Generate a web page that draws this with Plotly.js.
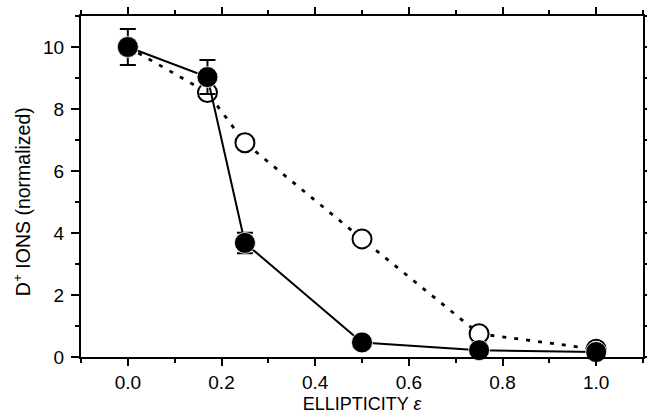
<!DOCTYPE html>
<html>
<head>
<meta charset="utf-8">
<script src="https://cdn.plot.ly/plotly-3.0.1.min.js"></script>
<style>html,body{margin:0;padding:0;background:#fff;}#chart{width:647px;height:417px;}</style>
</head>
<body>
<div id="chart"></div>
<script>
const ellipticity = [0.0, 0.17, 0.25, 0.5, 0.75, 1.0];
const openIons    = [10.0, 8.53, 6.91, 3.81, 0.75, 0.25];
const filledIons  = [10.0, 9.03, 3.68, 0.47, 0.22, 0.16];
const filledErr   = [0.58, 0.55, 0.33, 0, 0, 0];
const xTickVals   = [0.0, 0.2, 0.4, 0.6, 0.8, 1.0];
const xTickText   = ['0.0', '0.2', '0.4', '0.6', '0.8', '1.0'];
const yTickVals   = [0, 2, 4, 6, 8, 10];

const fam = 'Liberation Sans, Arial, sans-serif';
const tickFont = {family: fam, size: 19, color: '#000'};
const xTitleFont = {family: fam, size: 18, color: '#000'};
const yTitleFont = {family: fam, size: 19.5, color: '#000'};

const traces = [
  {
    x: ellipticity, y: openIons, type: 'scatter', mode: 'lines+markers',
    line: {color: '#000', width: 2.8, dash: '4px,8px'},
    marker: {symbol: 'circle', size: 19, color: '#fff', line: {color: '#000', width: 2}},
    cliponaxis: false, showlegend: false, hoverinfo: 'skip'
  },
  {
    x: ellipticity, y: filledIons, type: 'scatter', mode: 'lines+markers',
    line: {color: '#000', width: 2},
    marker: {symbol: 'circle', size: 21, color: '#000', line: {color: '#fff', width: 0.8}},
    error_y: {type: 'data', array: filledErr, visible: true, color: '#000', thickness: 2, width: 8},
    cliponaxis: false, showlegend: false, hoverinfo: 'skip'
  }
];

const layout = {
  width: 647, height: 417,
  margin: {l: 81, r: 4, t: 16, b: 60},
  paper_bgcolor: '#fff', plot_bgcolor: '#fff',
  font: tickFont,
  showlegend: false,
  xaxis: {
    range: [-0.1, 1.1], tickvals: xTickVals, ticktext: xTickText,
    ticks: 'outside', ticklen: 7, tickwidth: 2, tickcolor: '#000',
    minor: {dtick: 0.1, tick0: 0, ticks: 'outside', ticklen: 4, tickwidth: 2, tickcolor: '#000', showgrid: false},
    showline: true, linewidth: 2, linecolor: '#000', mirror: 'ticks',
    showgrid: false, zeroline: false, tickfont: tickFont, ticklabelstandoff: 0,
    title: {text: 'ELLIPTICITY <i>ε</i>', font: xTitleFont, standoff: 6}
  },
  yaxis: {
    range: [0, 11], tickvals: yTickVals,
    ticks: 'outside', ticklen: 8, tickwidth: 2, tickcolor: '#000',
    minor: {dtick: 1, tick0: 0, ticks: 'outside', ticklen: 4, tickwidth: 2, tickcolor: '#000', showgrid: false},
    showline: true, linewidth: 2, linecolor: '#000', mirror: 'ticks',
    showgrid: false, zeroline: false, tickfont: tickFont, ticklabelstandoff: 3
  },
  annotations: [{
    text: 'D<sup>+</sup> IONS (normalized)', font: yTitleFont,
    xref: 'paper', yref: 'paper', x: -0.105, y: 0.457,
    xanchor: 'center', yanchor: 'middle', textangle: -90, showarrow: false
  }]
};

Plotly.newPlot('chart', traces, layout, {staticPlot: true, displayModeBar: false});
</script>
</body>
</html>
